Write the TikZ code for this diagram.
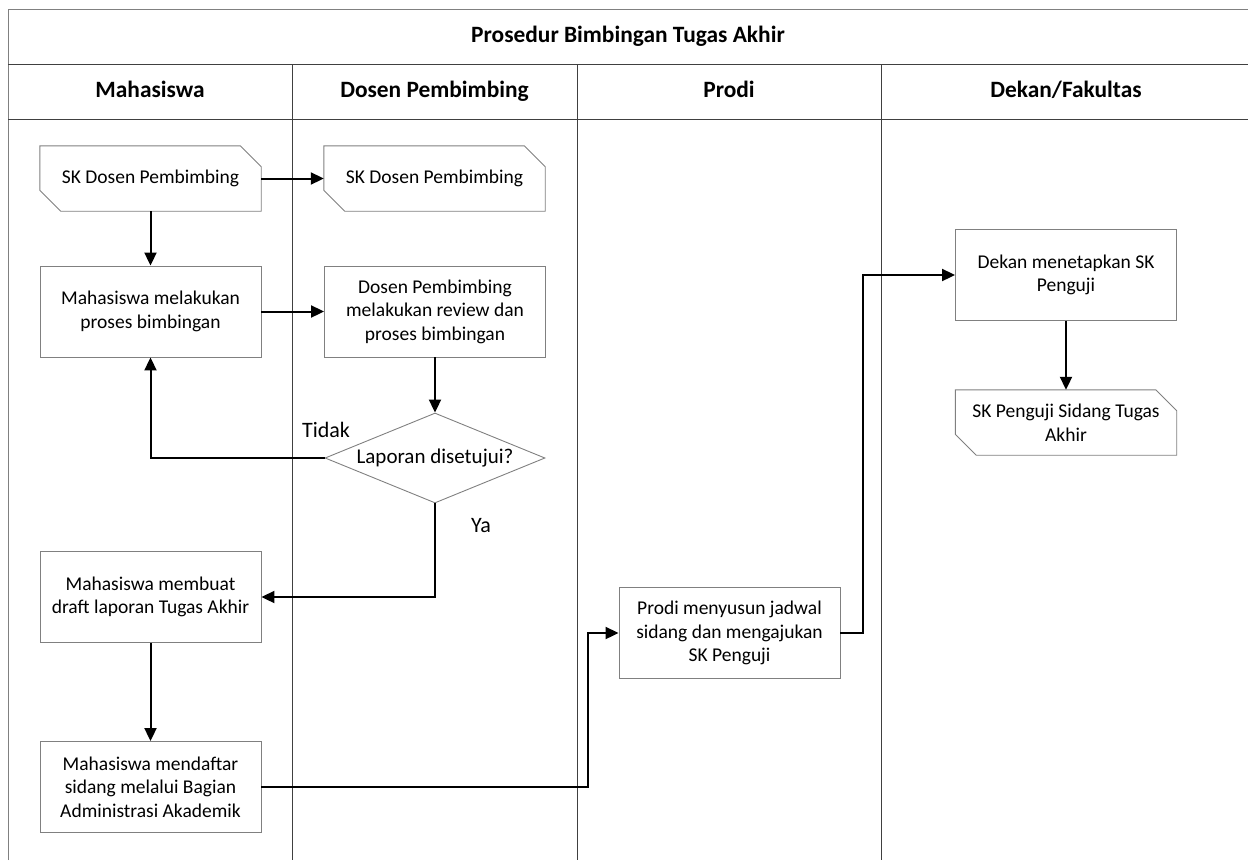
\documentclass[tikz,border=0pt]{standalone}
\usepackage{fontspec}
\setmainfont{Carlito}
\usetikzlibrary{arrows.meta,shapes.geometric,calc}
\tikzset{
  outer/.style={draw=black!50, line width=1pt},
  lane/.style={draw=black!75, line width=1pt},
  procbox/.style={draw=black!50, line width=0.9pt, minimum width=221pt, minimum height=91pt, align=center, inner sep=0pt, font=\fontsize{19.5}{23.5}\selectfont},
  docnode/.style={minimum width=221pt, minimum height=65pt, align=center, inner sep=0pt, font=\fontsize{19.5}{23.5}\selectfont},
  docline/.style={draw=black!50, line width=0.9pt},
  decision/.style={diamond, draw=black!50, line width=0.9pt, minimum width=220pt, minimum height=90pt, inner sep=0pt, aspect=2.44, font=\fontsize{21}{25}\selectfont},
  headtext/.style={font=\fontsize{23.4}{28}\selectfont\bfseries, text height=16pt, text depth=5pt},
  flowlabel/.style={font=\fontsize{22}{26}\selectfont, text height=15pt, text depth=5pt},
  flow/.style={draw=black, line width=2pt, -{Triangle[length=13pt,width=12pt]}},
}
\newcommand{\docoutline}[1]{%
  \draw[docline] (#1.north west) -- ([xshift=-21pt]#1.north east) -- ([yshift=-21pt]#1.north east) -- (#1.south east) -- ([xshift=21pt]#1.south west) -- ([yshift=21pt]#1.south west) -- cycle;}
\begin{document}
\begin{tikzpicture}[x=1pt,y=-1pt]
\useasboundingbox (0,0) rectangle (1248,860);
% frame
\draw[outer] (8,860) -- (8,9) -- (1248,9);
\draw[lane] (8,64) -- (1248,64);
\draw[lane] (8,119) -- (1248,119);
\draw[lane] (292,64) -- (292,860);
\draw[lane] (577,64) -- (577,860);
\draw[lane] (881,64) -- (881,860);
% headers
\node[headtext] (title) at (628,37) {Prosedur Bimbingan Tugas Akhir};
\node[headtext] (h1) at (150,92) {Mahasiswa};
\node[headtext] (h2) at (434.5,92) {Dosen Pembimbing};
\node[headtext] (h3) at (729,92) {Prodi};
\node[headtext] (h4) at (1066,92) {Dekan/Fakultas};
% nodes
\node[docnode] (sk1) at (150.5,178.5) {SK Dosen Pembimbing};
\node[docnode] (sk2) at (434.5,178.5) {SK Dosen Pembimbing};
\docoutline{sk1}
\docoutline{sk2}
\node[procbox] (b1) at (150.5,311.5) {Mahasiswa melakukan\\proses bimbingan};
\node[procbox] (b2) at (435,311.5) {Dosen Pembimbing\\melakukan review dan\\proses bimbingan};
\node[decision] (d) at (435,458) {Laporan disetujui?};
\node[procbox] (b3) at (150.5,597) {Mahasiswa membuat\\draft laporan Tugas Akhir};
\node[procbox] (b4) at (150.5,787) {Mahasiswa mendaftar\\sidang melalui Bagian\\Administrasi Akademik};
\node[procbox] (p) at (729.5,633) {Prodi menyusun jadwal\\sidang dan mengajukan\\SK Penguji};
\node[procbox] (k) at (1066,275) {Dekan menetapkan SK\\Penguji};
\node[docnode] (sk3) at (1066,422.5) {SK Penguji Sidang Tugas\\Akhir};
\docoutline{sk3}
% labels
\node[flowlabel] (tidak) at (326,432) {Tidak};
\node[flowlabel] (ya) at (481,527) {Ya};
% connectors
\draw[flow] (sk1.east) -- (sk2.west);
\draw[flow] (sk1.south) -- (b1.north);
\draw[flow] (b1.east) -- (b2.west);
\draw[flow] (b2.south) -- (d.north);
\draw[flow] (d.west) -| (b1.south);
\draw[flow] (d.south) |- (b3.east);
\draw[flow] (b3.south) -- (b4.north);
\draw[flow] (b4.east) -| ([xshift=-31pt]p.west) -- (p.west);
\draw[flow] (p.east) -| ([xshift=-92pt]k.west) -- (k.west);
\draw[flow] (k.south) -- (sk3.north);
\end{tikzpicture}
\end{document}
